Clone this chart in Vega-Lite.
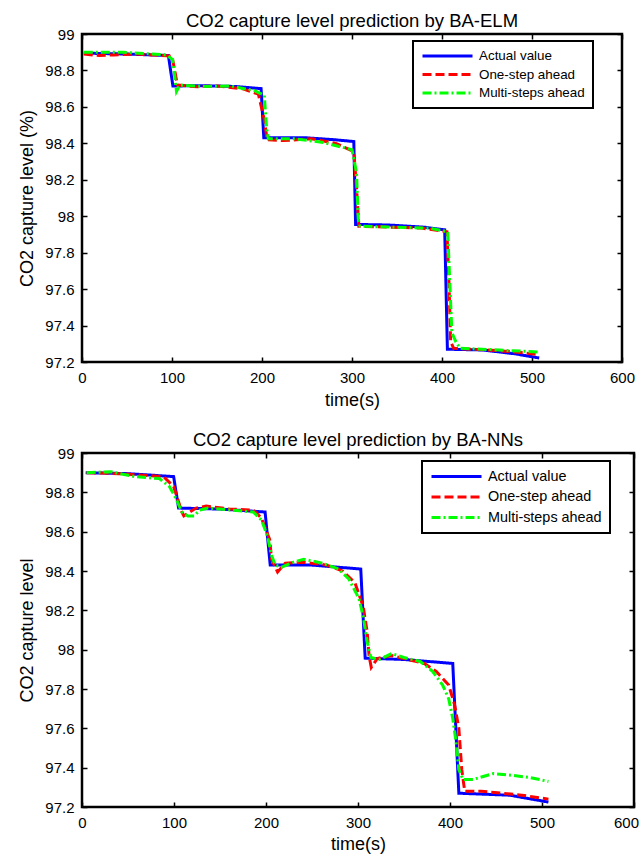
{
  "$schema": "https://vega.github.io/schema/vega-lite/v6.json",
  "background": "white",
  "padding": {"left": 17, "top": 10, "right": 0, "bottom": 0},
  "bounds": "flush",
  "spacing": 91,
  "resolve": {"scale": {"color": "independent", "strokeDash": "independent"}, "legend": {"color": "independent", "strokeDash": "independent"}},
  "config": {
    "font": "Liberation Sans",
    "view": {"stroke": "black", "strokeWidth": 2.5},
    "axis": {"domain": false, "grid": false, "tickSize": -5, "tickWidth": 1.5, "tickColor": "black", "labelFontSize": 15, "titleFontSize": 18, "titleFontWeight": "normal", "labelColor": "black", "titleColor": "black", "labelPadding": 13, "labelFlush": false},
    "title": {"fontSize": 18.5, "fontWeight": "normal", "color": "black", "offset": -3},
    "legend": {"strokeColor": "black", "strokeWidth": 2, "fillColor": "white", "symbolType": "stroke", "symbolSize": 2500, "symbolStrokeWidth": 3, "labelColor": "black", "title": null}
  },
  "datasets": {
    "elm": [
      {"s": "Actual value", "t": 2, "v": 98.895}, {"s": "Actual value", "t": 50, "v": 98.89}, {"s": "Actual value", "t": 96, "v": 98.882}, {"s": "Actual value", "t": 101, "v": 98.715}, {"s": "Actual value", "t": 137, "v": 98.716}, {"s": "Actual value", "t": 170, "v": 98.712}, {"s": "Actual value", "t": 199, "v": 98.70}, {"s": "Actual value", "t": 202, "v": 98.43}, {"s": "Actual value", "t": 250, "v": 98.43}, {"s": "Actual value", "t": 280, "v": 98.42}, {"s": "Actual value", "t": 302, "v": 98.41}, {"s": "Actual value", "t": 304, "v": 97.955}, {"s": "Actual value", "t": 340, "v": 97.952}, {"s": "Actual value", "t": 380, "v": 97.94}, {"s": "Actual value", "t": 403, "v": 97.925}, {"s": "Actual value", "t": 406, "v": 97.27}, {"s": "Actual value", "t": 445, "v": 97.266}, {"s": "Actual value", "t": 481, "v": 97.245}, {"s": "Actual value", "t": 508, "v": 97.222},
      {"s": "One-step ahead", "t": 2, "v": 98.89}, {"s": "One-step ahead", "t": 19, "v": 98.882}, {"s": "One-step ahead", "t": 35, "v": 98.885}, {"s": "One-step ahead", "t": 60, "v": 98.89}, {"s": "One-step ahead", "t": 80, "v": 98.885}, {"s": "One-step ahead", "t": 94, "v": 98.88}, {"s": "One-step ahead", "t": 100, "v": 98.878}, {"s": "One-step ahead", "t": 103, "v": 98.80}, {"s": "One-step ahead", "t": 106, "v": 98.72}, {"s": "One-step ahead", "t": 128, "v": 98.71}, {"s": "One-step ahead", "t": 150, "v": 98.715}, {"s": "One-step ahead", "t": 178, "v": 98.70}, {"s": "One-step ahead", "t": 196, "v": 98.67}, {"s": "One-step ahead", "t": 202.5, "v": 98.53}, {"s": "One-step ahead", "t": 205.7, "v": 98.42}, {"s": "One-step ahead", "t": 223, "v": 98.415}, {"s": "One-step ahead", "t": 255, "v": 98.425}, {"s": "One-step ahead", "t": 282, "v": 98.40}, {"s": "One-step ahead", "t": 302, "v": 98.355}, {"s": "One-step ahead", "t": 305, "v": 98.16}, {"s": "One-step ahead", "t": 307.6, "v": 97.945}, {"s": "One-step ahead", "t": 341, "v": 97.94}, {"s": "One-step ahead", "t": 377, "v": 97.935}, {"s": "One-step ahead", "t": 405.5, "v": 97.915}, {"s": "One-step ahead", "t": 407.8, "v": 97.63}, {"s": "One-step ahead", "t": 409.6, "v": 97.31}, {"s": "One-step ahead", "t": 413, "v": 97.275}, {"s": "One-step ahead", "t": 454, "v": 97.265}, {"s": "One-step ahead", "t": 481, "v": 97.255}, {"s": "One-step ahead", "t": 508, "v": 97.24},
      {"s": "Multi-steps ahead", "t": 2, "v": 98.90}, {"s": "Multi-steps ahead", "t": 46, "v": 98.90}, {"s": "Multi-steps ahead", "t": 94, "v": 98.885}, {"s": "Multi-steps ahead", "t": 100.6, "v": 98.86}, {"s": "Multi-steps ahead", "t": 103, "v": 98.77}, {"s": "Multi-steps ahead", "t": 105, "v": 98.685}, {"s": "Multi-steps ahead", "t": 108.7, "v": 98.72}, {"s": "Multi-steps ahead", "t": 137, "v": 98.712}, {"s": "Multi-steps ahead", "t": 164, "v": 98.715}, {"s": "Multi-steps ahead", "t": 191, "v": 98.69}, {"s": "Multi-steps ahead", "t": 202.5, "v": 98.665}, {"s": "Multi-steps ahead", "t": 205, "v": 98.49}, {"s": "Multi-steps ahead", "t": 207, "v": 98.425}, {"s": "Multi-steps ahead", "t": 236.5, "v": 98.425}, {"s": "Multi-steps ahead", "t": 268, "v": 98.405}, {"s": "Multi-steps ahead", "t": 300, "v": 98.365}, {"s": "Multi-steps ahead", "t": 305, "v": 98.24}, {"s": "Multi-steps ahead", "t": 307, "v": 97.98}, {"s": "Multi-steps ahead", "t": 309, "v": 97.945}, {"s": "Multi-steps ahead", "t": 345, "v": 97.94}, {"s": "Multi-steps ahead", "t": 386, "v": 97.935}, {"s": "Multi-steps ahead", "t": 406.4, "v": 97.915}, {"s": "Multi-steps ahead", "t": 408.7, "v": 97.63}, {"s": "Multi-steps ahead", "t": 411, "v": 97.36}, {"s": "Multi-steps ahead", "t": 415.5, "v": 97.31}, {"s": "Multi-steps ahead", "t": 420, "v": 97.275}, {"s": "Multi-steps ahead", "t": 454, "v": 97.268}, {"s": "Multi-steps ahead", "t": 508, "v": 97.255}
    ],
    "nn": [
      {"s": "Actual value", "t": 4, "v": 98.90}, {"s": "Actual value", "t": 50, "v": 98.895}, {"s": "Actual value", "t": 99.6, "v": 98.88}, {"s": "Actual value", "t": 105, "v": 98.72}, {"s": "Actual value", "t": 150, "v": 98.715}, {"s": "Actual value", "t": 199, "v": 98.70}, {"s": "Actual value", "t": 204.6, "v": 98.43}, {"s": "Actual value", "t": 250, "v": 98.43}, {"s": "Actual value", "t": 303, "v": 98.41}, {"s": "Actual value", "t": 307.8, "v": 97.957}, {"s": "Actual value", "t": 350, "v": 97.95}, {"s": "Actual value", "t": 403, "v": 97.93}, {"s": "Actual value", "t": 409.6, "v": 97.27}, {"s": "Actual value", "t": 465, "v": 97.26}, {"s": "Actual value", "t": 507, "v": 97.225},
      {"s": "One-step ahead", "t": 5, "v": 98.90}, {"s": "One-step ahead", "t": 40, "v": 98.895}, {"s": "One-step ahead", "t": 88.6, "v": 98.88}, {"s": "One-step ahead", "t": 99.6, "v": 98.83}, {"s": "One-step ahead", "t": 108.5, "v": 98.70}, {"s": "One-step ahead", "t": 110.7, "v": 98.68}, {"s": "One-step ahead", "t": 124, "v": 98.72}, {"s": "One-step ahead", "t": 135, "v": 98.73}, {"s": "One-step ahead", "t": 160, "v": 98.715}, {"s": "One-step ahead", "t": 186, "v": 98.71}, {"s": "One-step ahead", "t": 195, "v": 98.67}, {"s": "One-step ahead", "t": 204, "v": 98.56}, {"s": "One-step ahead", "t": 206, "v": 98.46}, {"s": "One-step ahead", "t": 212.6, "v": 98.395}, {"s": "One-step ahead", "t": 221, "v": 98.44}, {"s": "One-step ahead", "t": 239, "v": 98.445}, {"s": "One-step ahead", "t": 266, "v": 98.43}, {"s": "One-step ahead", "t": 283.4, "v": 98.40}, {"s": "One-step ahead", "t": 296.7, "v": 98.34}, {"s": "One-step ahead", "t": 305.6, "v": 98.22}, {"s": "One-step ahead", "t": 310, "v": 98.09}, {"s": "One-step ahead", "t": 312, "v": 97.97}, {"s": "One-step ahead", "t": 314.4, "v": 97.91}, {"s": "One-step ahead", "t": 321, "v": 97.955}, {"s": "One-step ahead", "t": 336.6, "v": 97.97}, {"s": "One-step ahead", "t": 354, "v": 97.95}, {"s": "One-step ahead", "t": 372, "v": 97.93}, {"s": "One-step ahead", "t": 385, "v": 97.89}, {"s": "One-step ahead", "t": 398.6, "v": 97.82}, {"s": "One-step ahead", "t": 405, "v": 97.72}, {"s": "One-step ahead", "t": 409.6, "v": 97.60}, {"s": "One-step ahead", "t": 412.8, "v": 97.39}, {"s": "One-step ahead", "t": 416, "v": 97.28}, {"s": "One-step ahead", "t": 434, "v": 97.28}, {"s": "One-step ahead", "t": 478, "v": 97.26}, {"s": "One-step ahead", "t": 500, "v": 97.245}, {"s": "One-step ahead", "t": 507, "v": 97.24},
      {"s": "Multi-steps ahead", "t": 5, "v": 98.90}, {"s": "Multi-steps ahead", "t": 31, "v": 98.905}, {"s": "Multi-steps ahead", "t": 57.6, "v": 98.88}, {"s": "Multi-steps ahead", "t": 84, "v": 98.87}, {"s": "Multi-steps ahead", "t": 95, "v": 98.83}, {"s": "Multi-steps ahead", "t": 102, "v": 98.77}, {"s": "Multi-steps ahead", "t": 108.5, "v": 98.70}, {"s": "Multi-steps ahead", "t": 115, "v": 98.68}, {"s": "Multi-steps ahead", "t": 122, "v": 98.68}, {"s": "Multi-steps ahead", "t": 128, "v": 98.71}, {"s": "Multi-steps ahead", "t": 137, "v": 98.72}, {"s": "Multi-steps ahead", "t": 186, "v": 98.70}, {"s": "Multi-steps ahead", "t": 195, "v": 98.66}, {"s": "Multi-steps ahead", "t": 201.5, "v": 98.58}, {"s": "Multi-steps ahead", "t": 206, "v": 98.48}, {"s": "Multi-steps ahead", "t": 210, "v": 98.43}, {"s": "Multi-steps ahead", "t": 217, "v": 98.42}, {"s": "Multi-steps ahead", "t": 230, "v": 98.445}, {"s": "Multi-steps ahead", "t": 241, "v": 98.46}, {"s": "Multi-steps ahead", "t": 261, "v": 98.44}, {"s": "Multi-steps ahead", "t": 279, "v": 98.41}, {"s": "Multi-steps ahead", "t": 290, "v": 98.36}, {"s": "Multi-steps ahead", "t": 301, "v": 98.26}, {"s": "Multi-steps ahead", "t": 305.6, "v": 98.17}, {"s": "Multi-steps ahead", "t": 310, "v": 98.04}, {"s": "Multi-steps ahead", "t": 314, "v": 97.96}, {"s": "Multi-steps ahead", "t": 323, "v": 97.95}, {"s": "Multi-steps ahead", "t": 336.6, "v": 97.98}, {"s": "Multi-steps ahead", "t": 350, "v": 97.96}, {"s": "Multi-steps ahead", "t": 367.6, "v": 97.94}, {"s": "Multi-steps ahead", "t": 381, "v": 97.89}, {"s": "Multi-steps ahead", "t": 392, "v": 97.82}, {"s": "Multi-steps ahead", "t": 398.6, "v": 97.75}, {"s": "Multi-steps ahead", "t": 403, "v": 97.65}, {"s": "Multi-steps ahead", "t": 406.6, "v": 97.53}, {"s": "Multi-steps ahead", "t": 409.6, "v": 97.39}, {"s": "Multi-steps ahead", "t": 414, "v": 97.34}, {"s": "Multi-steps ahead", "t": 425, "v": 97.34}, {"s": "Multi-steps ahead", "t": 447, "v": 97.37}, {"s": "Multi-steps ahead", "t": 469, "v": 97.36}, {"s": "Multi-steps ahead", "t": 487, "v": 97.35}, {"s": "Multi-steps ahead", "t": 507, "v": 97.33}
    ]
  },
  "vconcat": [
    {
      "width": 540,
      "height": 328,
      "title": "CO2 capture level prediction by BA-ELM",
      "data": {"name": "elm"},
      "layer": [
        {
          "mark": {"type": "line", "strokeWidth": 3},
          "encoding": {
            "x": {"field": "t", "type": "quantitative", "scale": {"domain": [0, 600], "nice": false}, "axis": {"title": "time(s)", "values": [0, 100, 200, 300, 400, 500, 600], "titlePadding": 6}},
            "y": {"field": "v", "type": "quantitative", "scale": {"domain": [97.2, 99], "nice": false, "zero": false}, "axis": {"title": "CO2 capture level (%)", "values": [97.2, 97.4, 97.6, 97.8, 98, 98.2, 98.4, 98.6, 98.8, 99], "format": "~g", "titlePadding": 8}},
            "color": {"field": "s", "type": "nominal", "scale": {"domain": ["Actual value", "One-step ahead", "Multi-steps ahead"], "range": ["#0000ff", "#ff0000", "#00ff00"]}, "legend": {"orient": "none", "legendX": 331, "legendY": 7, "labelFontSize": 13.4, "padding": 8, "clipHeight": 14, "rowPadding": 4.5, "labelOffset": 5}},
            "strokeDash": {"field": "s", "type": "nominal", "scale": {"domain": ["Actual value", "One-step ahead", "Multi-steps ahead"], "range": [[1, 0], [9, 4], [9, 3, 2, 3]]}, "legend": {"orient": "none", "legendX": 331, "legendY": 7, "labelFontSize": 13.4, "padding": 8, "clipHeight": 14, "rowPadding": 4.5, "labelOffset": 5}}
          }
        },
        {
          "mark": {"type": "point", "opacity": 0},
          "encoding": {
            "x": {"field": "t", "type": "quantitative", "axis": {"orient": "top", "labels": false, "title": null, "values": [0, 100, 200, 300, 400, 500, 600]}},
            "y": {"field": "v", "type": "quantitative", "axis": {"orient": "right", "labels": false, "title": null, "values": [97.2, 97.4, 97.6, 97.8, 98, 98.2, 98.4, 98.6, 98.8, 99]}}
          }
        }
      ],
      "resolve": {"axis": {"x": "independent", "y": "independent"}}
    },
    {
      "width": 552,
      "height": 354,
      "title": "CO2 capture level prediction by BA-NNs",
      "data": {"name": "nn"},
      "layer": [
        {
          "mark": {"type": "line", "strokeWidth": 3},
          "encoding": {
            "x": {"field": "t", "type": "quantitative", "scale": {"domain": [0, 600], "nice": false}, "axis": {"title": "time(s)", "values": [0, 100, 200, 300, 400, 500, 600], "titlePadding": 5, "labelOffset": {"condition": {"test": "datum.value === 600", "value": -8}, "value": 0}}},
            "y": {"field": "v", "type": "quantitative", "scale": {"domain": [97.2, 99], "nice": false, "zero": false}, "axis": {"title": "CO2 capture level", "values": [97.2, 97.4, 97.6, 97.8, 98, 98.2, 98.4, 98.6, 98.8, 99], "format": "~g", "titlePadding": 8}},
            "color": {"field": "s", "type": "nominal", "scale": {"domain": ["Actual value", "One-step ahead", "Multi-steps ahead"], "range": ["#0000ff", "#ff0000", "#00ff00"]}, "legend": {"orient": "none", "legendX": 340, "legendY": 8, "labelFontSize": 14.4, "padding": 8, "clipHeight": 15, "rowPadding": 4.5, "labelOffset": 5}},
            "strokeDash": {"field": "s", "type": "nominal", "scale": {"domain": ["Actual value", "One-step ahead", "Multi-steps ahead"], "range": [[1, 0], [9, 4], [9, 3, 2, 3]]}, "legend": {"orient": "none", "legendX": 340, "legendY": 8, "labelFontSize": 14.4, "padding": 8, "clipHeight": 15, "rowPadding": 4.5, "labelOffset": 5}}
          }
        },
        {
          "mark": {"type": "point", "opacity": 0},
          "encoding": {
            "x": {"field": "t", "type": "quantitative", "axis": {"orient": "top", "labels": false, "title": null, "values": [0, 100, 200, 300, 400, 500, 600]}},
            "y": {"field": "v", "type": "quantitative", "axis": {"orient": "right", "labels": false, "title": null, "values": [97.2, 97.4, 97.6, 97.8, 98, 98.2, 98.4, 98.6, 98.8, 99]}}
          }
        }
      ],
      "resolve": {"axis": {"x": "independent", "y": "independent"}}
    }
  ]
}
